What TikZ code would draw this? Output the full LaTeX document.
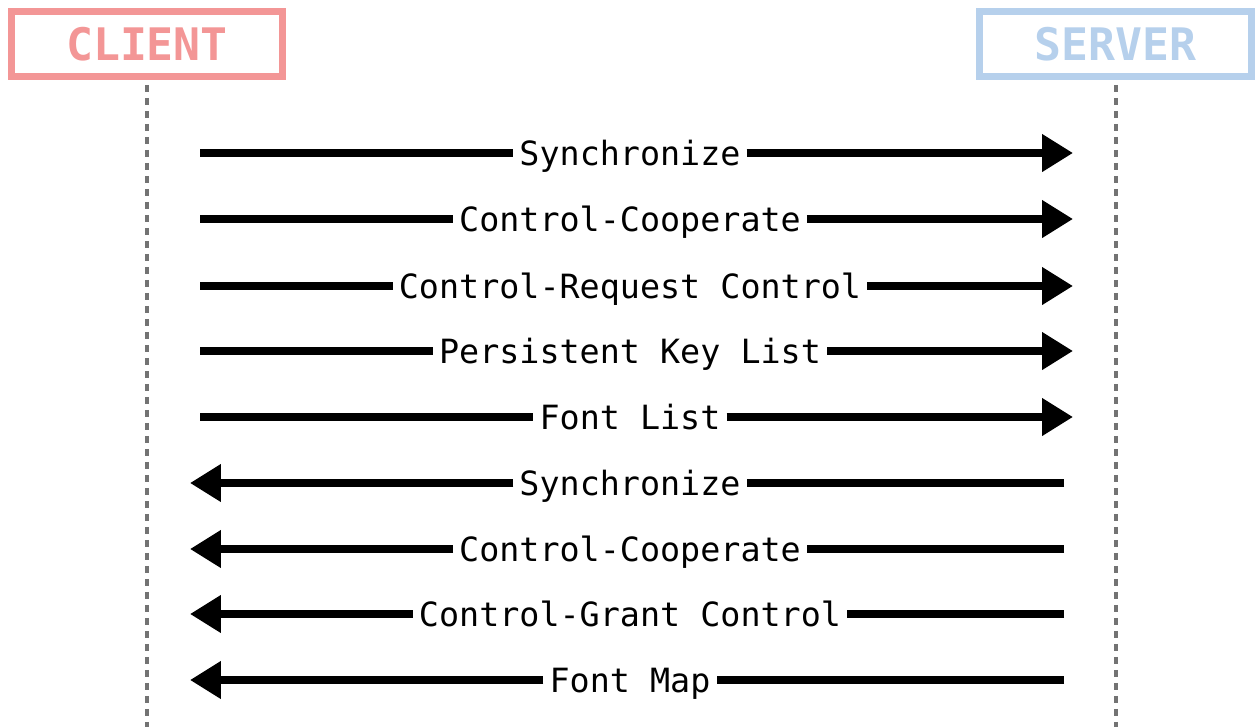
\documentclass[tikz,border=0pt]{standalone}
\usepackage{fontspec}
\setmonofont{DejaVu Sans Mono}
\usetikzlibrary{arrows.meta}

\begin{document}
\begin{tikzpicture}[x=0.02cm,y=-0.02cm,>={Triangle[length=0.62cm,width=0.72cm]},
	line width=0.15cm,
	actor/.style={draw,line width=0.14cm,minimum width=5.42cm,minimum height=1.3cm,
		font=\ttfamily\bfseries\fontsize{25.5}{30}\selectfont},
	lifeline/.style={draw=gray!90!black,line width=0.08cm,dash pattern=on 0.14cm off 0.12cm},
	msg label/.style={font=\ttfamily\fontsize{19}{23}\selectfont,inner xsep=3.5pt,
		inner ysep=0pt,outer sep=0pt,text height=14.6pt,text depth=0pt}]
	
	\definecolor{clientred}{RGB}{243,150,150}
	\definecolor{serverblue}{RGB}{182,208,236}
	
	\useasboundingbox (0,0) rectangle (1259,727);
	
	\node[actor, draw=clientred, text=clientred] (client) at (147,44) {CLIENT};
	\node[actor, draw=serverblue, text=serverblue, minimum width=5.44cm] (server) at (1115.5,44) {SERVER};
	
	\coordinate (client end) at (147,727);
	\coordinate (server end) at (1115.5,727);
	\draw[lifeline] ([yshift=-0.1cm]client.south) -- (client end);
	\draw[lifeline] ([yshift=-0.1cm]server.south) -- (server end);
	
	% client -> server
	\coordinate (a1) at (200,153);  \coordinate (b1) at (1073,153);
	\coordinate (a2) at (200,219);  \coordinate (b2) at (1073,219);
	\coordinate (a3) at (200,286);  \coordinate (b3) at (1073,286);
	\coordinate (a4) at (200,351);  \coordinate (b4) at (1073,351);
	\coordinate (a5) at (200,417);  \coordinate (b5) at (1073,417);
	\node[msg label] (m1) at (630,153) {Synchronize};
	\node[msg label] (m2) at (630,219) {Control-Cooperate};
	\node[msg label] (m3) at (630,286) {Control-Request Control};
	\node[msg label] (m4) at (630,351) {Persistent Key List};
	\node[msg label] (m5) at (630,417) {Font List};
	
	% server -> client
	\coordinate (c6) at (1064,483);  \coordinate (d6) at (190,483);
	\coordinate (c7) at (1064,549);  \coordinate (d7) at (190,549);
	\coordinate (c8) at (1064,614);  \coordinate (d8) at (190,614);
	\coordinate (c9) at (1064,680);  \coordinate (d9) at (190,680);
	\node[msg label] (m6) at (630,483) {Synchronize};
	\node[msg label] (m7) at (630,549) {Control-Cooperate};
	\node[msg label] (m8) at (630,614) {Control-Grant Control};
	\node[msg label] (m9) at (630,680) {Font Map};
	
	\path[draw]
	(a1) edge (m1) (m1) edge[->] (b1)
	(a2) edge (m2) (m2) edge[->] (b2)
	(a3) edge (m3) (m3) edge[->] (b3)
	(a4) edge (m4) (m4) edge[->] (b4)
	(a5) edge (m5) (m5) edge[->] (b5)
	(c6) edge (m6) (m6) edge[->] (d6)
	(c7) edge (m7) (m7) edge[->] (d7)
	(c8) edge (m8) (m8) edge[->] (d8)
	(c9) edge (m9) (m9) edge[->] (d9);
\end{tikzpicture}
\end{document}
